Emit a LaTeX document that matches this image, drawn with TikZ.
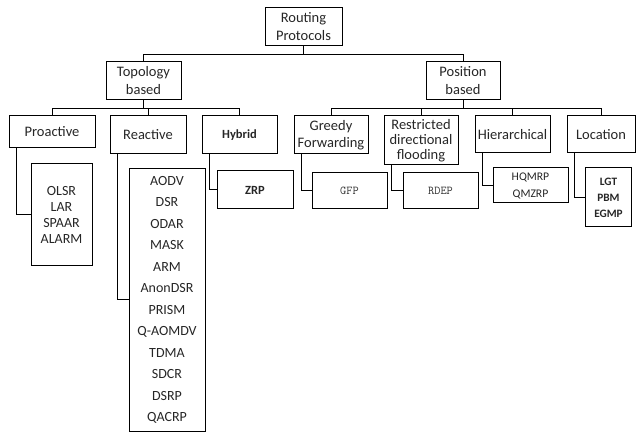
\documentclass[tikz,border=0pt]{standalone}
\usepackage{fontspec}
\setmainfont{Carlito}
\usetikzlibrary{positioning,calc}
\newcommand{\fsz}[2]{\fontsize{#1}{#2}\selectfont}
\tikzset{
  cat/.style={rectangle, draw=black, line width=1pt, align=center, inner sep=0pt,
    text=black!85, font=\fsz{14.5}{18}},
  leaf/.style={cat, font=\fsz{14}{16}},
  boldleaf/.style={cat, font=\fsz{12.5}{16}\bfseries},
  monoleaf/.style={cat, font=\ttfamily\fsz{12}{14}, text=black!80},
  link/.style={line width=1pt, draw=black},
}

\begin{document}
\begin{tikzpicture}[x=1pt, y=-1pt]
  \useasboundingbox (0,0) rectangle (641,433);
  \node[cat, minimum width=77pt, minimum height=38pt] (root) at (303.5,27) {Routing\\Protocols};
  \node[cat, minimum width=75pt, minimum height=38pt] (topo) at (143.5,81) {Topology\\based};
  \node[cat, minimum width=74pt, minimum height=38pt] (pos) at (463,81) {Position\\based};
  \node[cat, minimum width=86pt, minimum height=32pt] (pro) at (52,132) {Proactive};
  \node[cat, minimum width=76pt, minimum height=38pt] (rea) at (148,135) {Reactive};
  \node[boldleaf, minimum width=75pt, minimum height=38pt] (hyb) at (239.5,135) {Hybrid};
  \node[cat, font=\fsz{14.5}{17}, minimum width=74pt, minimum height=38pt] (greedy) at (331,135) {Greedy\\Forwarding};
  \node[cat, font=\fsz{14.5}{15}, minimum width=74pt, minimum height=49pt] (restr) at (421,140.5) {Restricted\\directional\\flooding};
  \node[cat, minimum width=75pt, minimum height=37pt] (hier) at (512.5,134.5) {Hierarchical};
  \node[cat, minimum width=68pt, minimum height=37pt] (loc) at (601,134.5) {Location};
  \node[leaf, font=\fsz{14}{15.8}, minimum width=61pt, minimum height=102pt] (olsr) at (61.5,215) {OLSR\\LAR\\SPAAR\\ALARM};
  \node[leaf, font=\fsz{14}{21.5}, minimum width=76pt, minimum height=262pt] (aodv) at (167,300)
    {AODV\\DSR\\ODAR\\MASK\\ARM\\AnonDSR\\PRISM\\Q-AOMDV\\TDMA\\SDCR\\DSRP\\QACRP};
  \node[boldleaf, minimum width=76pt, minimum height=38pt] (zrp) at (255,190) {ZRP};
  \node[monoleaf, minimum width=75pt, minimum height=36pt] (gfp) at (349.5,191) {GFP};
  \node[monoleaf, minimum width=75pt, minimum height=36pt] (rdep) at (440.5,191) {RDEP};
  \node[leaf, font=\fsz{11.7}{17}, minimum width=75pt, minimum height=35pt] (hqmrp) at (530.5,185.5) {HQMRP\\QMZRP};
  \node[boldleaf, font=\fsz{11.3}{16}\bfseries, minimum width=46pt, minimum height=59pt] (lgt) at (608.5,197.5) {LGT\\PBM\\EGMP};
  \foreach \c in {topo,pos} \draw[link] (root.south) -- ++(0,8) -| (\c.north);
  \foreach \c in {pro,rea,hyb} \draw[link] (topo.south) -- ++(0,8) -| (\c.north);
  \foreach \c in {greedy,restr,hier,loc} \draw[link] (pos.south) -- ++(0,8) -| (\c.north);
  \foreach \p/\c in {pro/olsr, rea/aodv, hyb/zrp, greedy/gfp, restr/rdep, hier/hqmrp, loc/lgt}
    \draw[link] ([xshift=8pt]\p.south west) |- (\c.west);
\end{tikzpicture}
\end{document}
